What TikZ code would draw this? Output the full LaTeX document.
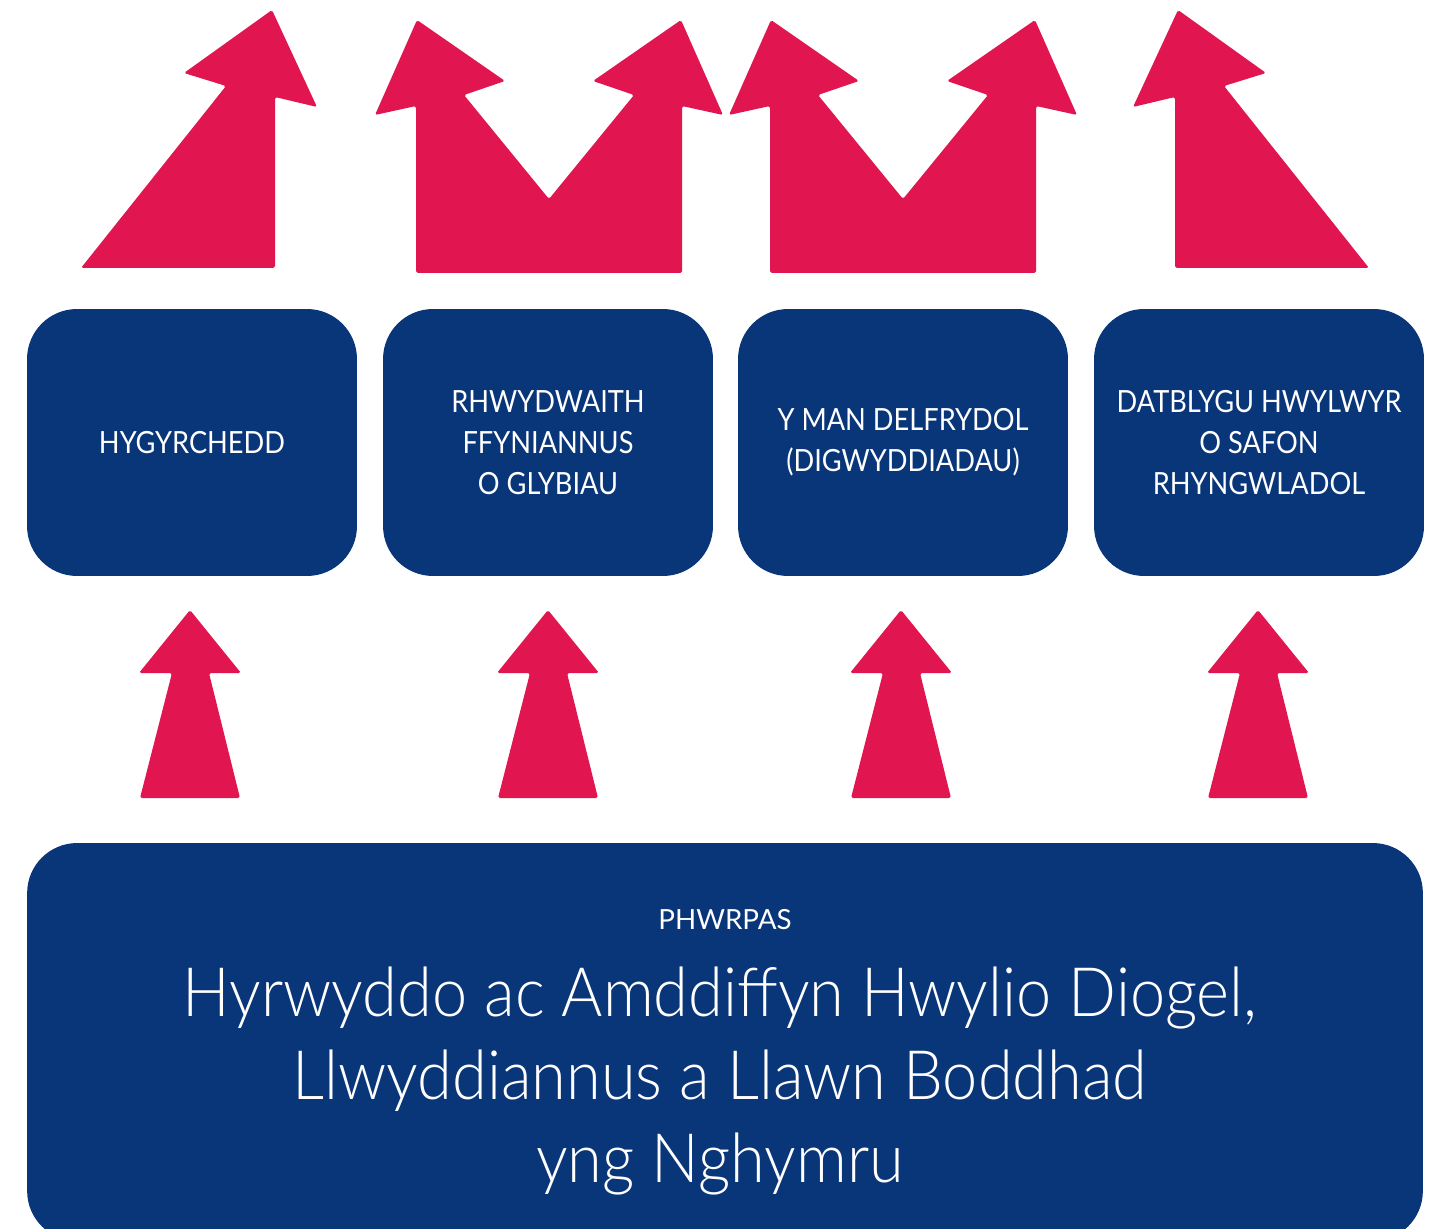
\documentclass[tikz,border=0pt]{standalone}
\usepackage{fontspec}
\setmainfont{Lato}
\newfontfamily\labelfont{Lato}[FakeStretch=0.89]
\IfFontExistsTF{Lato Light}{\newfontfamily\lightfont{Lato Light}[FakeStretch=0.925]}{\newfontfamily\lightfont{Lato}[FakeStretch=0.925]}
\usepackage{xcolor}
\definecolor{navy}{RGB}{9,53,121}
\definecolor{arrowred}{RGB}{225,22,80}

\begin{document}
\begin{tikzpicture}[x=0.02cm, y=-0.02cm,
    box/.style={fill=navy, text=white, rounded corners=1cm, align=center,
      minimum width=6.6cm, minimum height=5.34cm, outer sep=0pt,
      font=\labelfont\fontsize{17.4}{23.5}\selectfont},
    arr/.style={fill=arrowred, rounded corners=1pt}]
    \useasboundingbox (0,0) rectangle (1439,1229);

    % four aims
    \node[box] (access)  at (192,442.5) {HYGYRCHEDD};
    \node[box] (clubs)   at (548,442.5) {RHWYDWAITH\\FFYNIANNUS\\O GLYBIAU};
    \node[box] (venue)   at (903,442.5) {Y MAN DELFRYDOL\\(DIGWYDDIADAU)};
    \node[box] (sailors) at (1259,442.5) {DATBLYGU HWYLWYR\\O SAFON\\RHYNGWLADOL};

    % purpose
    \node[fill=navy, rounded corners=1cm, minimum width=27.92cm, minimum height=7.96cm] (purpose) at (725,1042) {};
    \node[text=white, font=\fontsize{15.8}{19}\selectfont] (ptitle) at (725,920) {PHWRPAS};
    \node[text=white, align=center, font=\lightfont\fontsize{38.8}{47}\selectfont] (pmain) at (720,1081)
      {Hyrwyddo ac Amddiffyn Hwylio Diogel,\\Llwyddiannus a Llawn Boddhad\\yng Nghymru};

    % arrows up from the purpose
    \foreach \cx in {190,548,901,1258}
      \fill[arr] (\cx,610) -- (\cx+51,673) -- (\cx+19,673) -- (\cx+50,798)
        -- (\cx-50,798) -- (\cx-18,673) -- (\cx-51,673) -- cycle;

    % arrows out of the aims
    \fill[arr] (272,10) -- (317,107) -- (275,97) -- (275,268) -- (81,268)
      -- (226,86) -- (184,73) -- cycle;
    \foreach \s in {0,354}
      \fill[arr, shift={(\s,0)}] (416,273) -- (416,106) -- (375,115) -- (417,20)
        -- (505,81) -- (464,95) -- (549,199) -- (634,95) -- (593,81) -- (681,20)
        -- (723,115) -- (682,106) -- (682,273) -- cycle;
    \fill[arr] (1178,10) -- (1133,107) -- (1175,97) -- (1175,268) -- (1369,268)
      -- (1224,86) -- (1266,73) -- cycle;
\end{tikzpicture}
\end{document}
